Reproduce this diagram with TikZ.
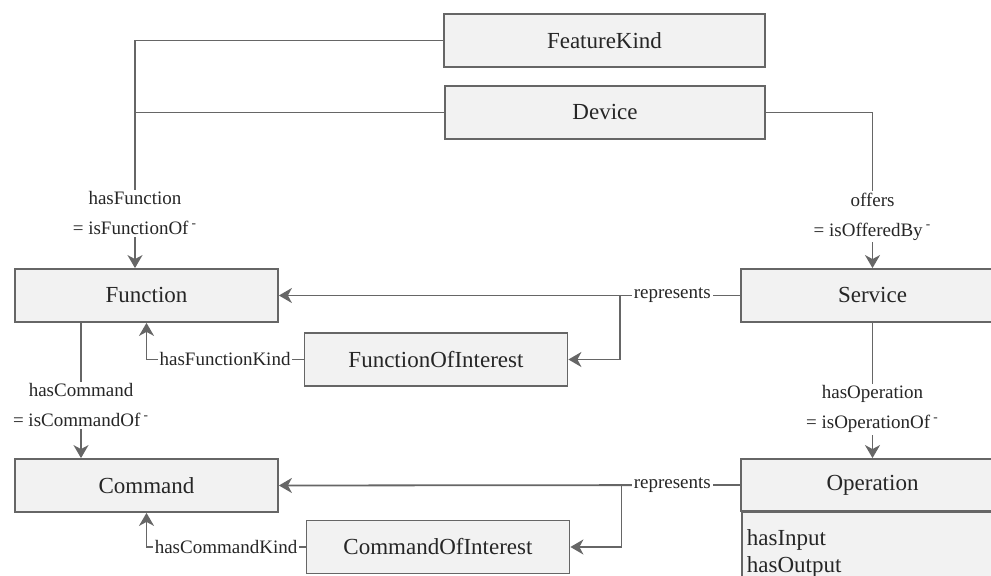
\documentclass[tikz,border=0pt]{standalone}
\usepackage{fontspec}
\newfontfamily\diagfont{Liberation Serif}
\usepackage{tikz}
\usetikzlibrary{arrows.meta,calc}
\definecolor{linegray}{HTML}{666666}
\definecolor{boxgray}{HTML}{F2F2F2}
\definecolor{txtgray}{HTML}{262626}

\begin{document}
\begin{tikzpicture}[x=0.5pt, y=-0.5pt,
        cls/.style={draw=linegray, fill=boxgray, line width=0.9pt, inner sep=0pt,
            minimum width=131.5pt, minimum height=26.5pt, text=txtgray,
            font=\diagfont\fontsize{11.5}{13}\selectfont},
        link/.style={draw=linegray, line width=0.9pt},
        arr/.style={link, -{Stealth[length=6.5pt, width=7.5pt, inset=2pt]}},
        rel/.style={fill=white, inner sep=1pt, text=txtgray, align=center,
            font=\diagfont\fontsize{9.5}{15}\selectfont}]

                \useasboundingbox (0,0) rectangle (991,576);
                \clip (0,0) rectangle (991,576);

                \node[cls, minimum width=160.5pt] (fkind) at (604.5,40.5) {FeatureKind};
                \node[cls, minimum width=160pt] (device) at (605,112.5) {Device};
                \node[cls] (function) at (146.5,295.5) {Function};
                \node[cls] (service) at (872.5,295.5) {Service};
                \node[cls] (foi) at (436,359.5) {FunctionOfInterest};
                \node[cls] (command) at (146.5,485.5) {Command};
                \node[cls, minimum height=26pt] (operation) at (872.5,485) {Operation};
                \node[cls, anchor=north west, minimum height=45pt, align=left, text width=127pt,
                    inner xsep=2.5pt, inner ysep=9pt, text depth=28pt, font=\diagfont\fontsize{11.5}{13.5}\selectfont]
                    (opattr) at (741,511) {hasInput\\hasOutput};
                \node[cls] (coi) at (438,547) {CommandOfInterest};

                \coordinate (fnin) at ($(function.north)+(-11.5,0)$);
                \coordinate (cmdout) at ($(function.south)+(-65.5,0)$);
                \coordinate (cmdin) at ($(command.north)+(-65.5,0)$);
                \coordinate (rep1) at ($(service.west)!0.261!(function.east)$);
                \coordinate (rep2) at ($(operation.west)!0.257!(command.east)$);

                \draw[arr] (fkind.west) -| node[rel, pos=0.88] {hasFunction\\= isFunctionOf\,\textsuperscript{-}} (fnin);
                \draw[link] (device.west) -- (device.west -| fnin);
                \draw[arr] (device.east) -| node[rel, pos=0.834] {offers\\= isOfferedBy\,\textsuperscript{-}} (service.north);

                \draw[arr] (service.west) -- node[rel, pos=0.147] {represents} (function.east);
                \draw[arr] (rep1) |- (foi.east);
                \draw[arr] (foi.west) -| node[rel, pos=0.25] {hasFunctionKind} (function.south);

                \draw[arr] (cmdout) -- node[rel, pos=0.61] {hasCommand\\= isCommandOf\,\textsuperscript{-}} (cmdin);
                \draw[arr] (service.south) -- node[rel, pos=0.64] {hasOperation\\= isOperationOf\,\textsuperscript{-}} (operation.north);

                \draw[arr] (operation.west) -- node[rel, pos=0.147] {represents} (command.east);
                \draw[arr] (rep2) |- (coi.east);
                \draw[arr] (coi.west) -| node[rel, pos=0.25] {hasCommandKind} (command.south);

            \end{tikzpicture}
\end{document}
